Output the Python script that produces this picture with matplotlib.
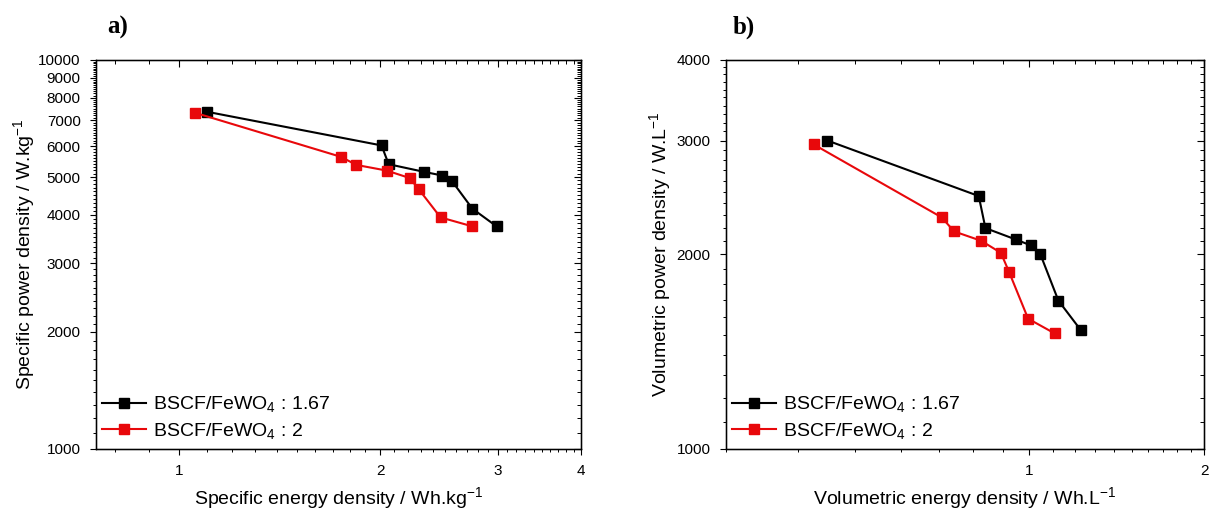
import matplotlib
matplotlib.use("Agg")
import matplotlib.pyplot as plt
from matplotlib.ticker import FixedLocator, NullFormatter, FuncFormatter

plt.rcParams["font.family"] = ["Liberation Sans", "DejaVu Sans"]
plt.rcParams["mathtext.fontset"] = "custom"
plt.rcParams["mathtext.rm"] = "Liberation Sans"
plt.rcParams["mathtext.it"] = "Liberation Sans:italic"

# a) specific (per mass)
spec_energy_167 = [1.10, 2.01, 2.06, 2.33, 2.48, 2.56, 2.75, 2.99]
spec_power_167 = [7360, 6030, 5395, 5155, 5045, 4897, 4147, 3735]
spec_energy_2 = [1.056, 1.748, 1.842, 2.046, 2.215, 2.284, 2.464, 2.75]
spec_power_2 = [7315, 5635, 5373, 5196, 4972, 4659, 3938, 3735]

# b) volumetric
vol_energy_167 = [0.4485, 0.818, 0.840, 0.947, 1.007, 1.045, 1.122, 1.226]
vol_power_167 = [3002, 2463, 2197, 2110, 2065, 2000, 1697, 1528]
vol_energy_2 = [0.425, 0.706, 0.742, 0.826, 0.893, 0.922, 0.995, 1.105]
vol_power_2 = [2960, 2283, 2171, 2100, 2012, 1882, 1591, 1510]

labels = [r"BSCF/FeWO$_4$ : 1.67", r"BSCF/FeWO$_4$ : 2"]
colors = ["black", "#e8080b"]

a_xmajor = [1, 2, 3, 4]
a_xminor = [0.8, 0.9] + [1 + 0.1 * i for i in range(1, 10)] + \
    [2 + 0.1 * i for i in range(1, 10)] + [3 + 0.1 * i for i in range(1, 10)]
a_ymajor = list(range(1000, 10001, 1000))
a_yminor = [v for v in range(1000, 10000, 100) if v % 1000]

b_xmajor = [1, 2]
b_xminor = [0.3, 0.4, 0.5, 0.6, 0.7, 0.8, 0.9] + [1 + 0.1 * i for i in range(1, 10)]
b_ymajor = [1000, 2000, 3000, 4000]
b_yminor = [v for v in range(1000, 4000, 100) if v % 1000]


def fmt(v, pos):
    return f"{v:g}"


def style_axes(ax, xlim, ylim, xmaj, xmin, ymaj, ymin):
    ax.set_xscale("log")
    ax.set_yscale("log")
    ax.set_xlim(*xlim)
    ax.set_ylim(*ylim)
    ax.xaxis.set_major_locator(FixedLocator(xmaj))
    ax.xaxis.set_minor_locator(FixedLocator(xmin))
    ax.yaxis.set_major_locator(FixedLocator(ymaj))
    ax.yaxis.set_minor_locator(FixedLocator(ymin))
    ax.xaxis.set_major_formatter(FuncFormatter(fmt))
    ax.yaxis.set_major_formatter(FuncFormatter(fmt))
    ax.xaxis.set_minor_formatter(NullFormatter())
    ax.yaxis.set_minor_formatter(NullFormatter())
    ax.tick_params(which="major", direction="out", length=4.5, width=0.8,
                   labelsize=11, pad=6.5)
    ax.tick_params(which="minor", direction="out", length=2.5, width=0.7)
    for s in ax.spines.values():
        s.set_linewidth(1.0)

    # mirrored inward ticks on top and right
    top = ax.twiny()
    top.set_xscale("log")
    top.set_xlim(*xlim)
    top.xaxis.set_major_locator(FixedLocator(xmaj))
    top.xaxis.set_minor_locator(FixedLocator(xmin))
    top.tick_params(axis="x", which="both", direction="in", labeltop=False,
                    labelbottom=False)
    top.tick_params(axis="x", which="major", length=5, width=0.8)
    top.tick_params(axis="x", which="minor", length=3, width=0.7)
    right = ax.twinx()
    right.set_yscale("log")
    right.set_ylim(*ylim)
    right.yaxis.set_major_locator(FixedLocator(ymaj))
    right.yaxis.set_minor_locator(FixedLocator(ymin))
    right.tick_params(axis="y", which="both", direction="in", labelright=False,
                      labelleft=False)
    right.tick_params(axis="y", which="major", length=5, width=0.8)
    right.tick_params(axis="y", which="minor", length=3, width=0.7)


def plot_series(ax, xs, ys, color, label):
    ax.plot(xs, ys, color=color, marker="s", markersize=7, linewidth=1.5,
            label=label, zorder=3)


fig = plt.figure(figsize=(12.13, 5.13), dpi=100)
ax_a = fig.add_axes([0.0791, 0.1248, 0.3998, 0.7583])
ax_b = fig.add_axes([0.5985, 0.1248, 0.3941, 0.7583])

plot_series(ax_a, spec_energy_167, spec_power_167, colors[0], labels[0])
plot_series(ax_a, spec_energy_2, spec_power_2, colors[1], labels[1])
plot_series(ax_b, vol_energy_167, vol_power_167, colors[0], labels[0])
plot_series(ax_b, vol_energy_2, vol_power_2, colors[1], labels[1])

ax_a.set_xlabel(r"Specific energy density / Wh.kg$^{-1}$", fontsize=14, labelpad=5)
ax_a.set_ylabel(r"Specific power density / W.kg$^{-1}$", fontsize=14, labelpad=1)
ax_b.set_xlabel(r"Volumetric energy density / Wh.L$^{-1}$", fontsize=14, labelpad=5)
ax_b.set_ylabel(r"Volumetric power density / W.L$^{-1}$", fontsize=14, labelpad=3)

for ax in (ax_a, ax_b):
    ax.legend(loc="lower left", bbox_to_anchor=(0.012, 0.02), frameon=False,
              fontsize=14, handlelength=2.3, handletextpad=0.35,
              labelspacing=0.35, borderpad=0, borderaxespad=0)

style_axes(ax_a, (0.75, 4), (1000, 10000), a_xmajor, a_xminor, a_ymajor, a_yminor)
style_axes(ax_b, (0.3, 2), (1000, 4000), b_xmajor, b_xminor, b_ymajor, b_yminor)

fig.text(107 / 1213, 1 - 27 / 513, "a)", family="Liberation Serif",
         fontweight="bold", fontsize=18, va="center", ha="left")
fig.text(733 / 1213, 1 - 27 / 513, "b)", family="Liberation Serif",
         fontweight="bold", fontsize=18, va="center", ha="left")

fig.savefig("out.png", dpi=100)
